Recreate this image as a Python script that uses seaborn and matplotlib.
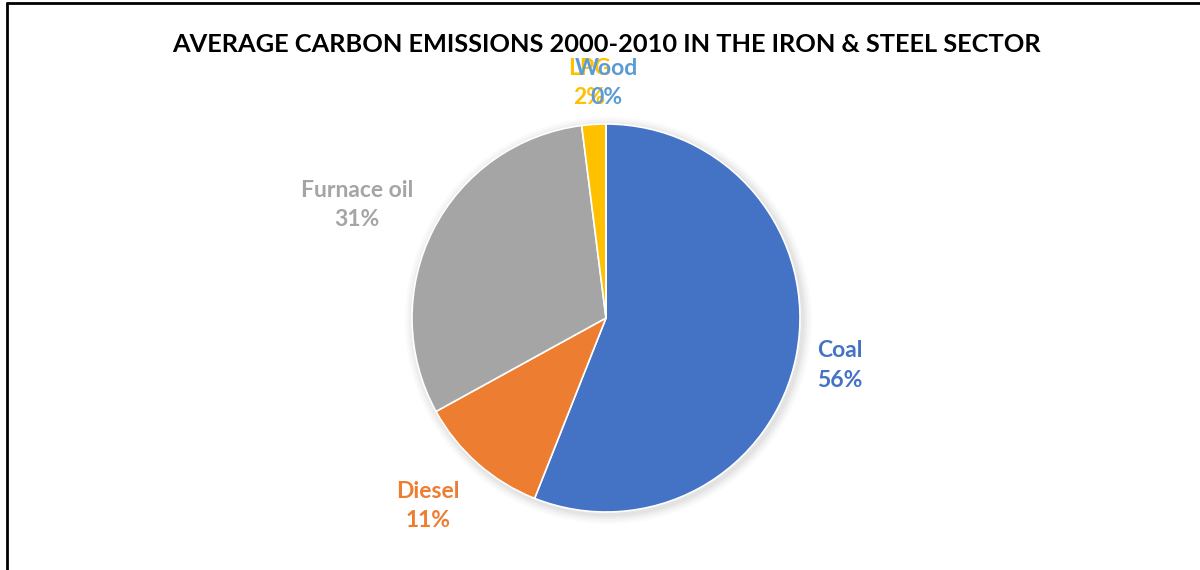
import matplotlib
matplotlib.use("Agg")
import matplotlib.pyplot as plt
from matplotlib.lines import Line2D
from matplotlib.patches import Circle
import seaborn as sns

# Share of average carbon emissions by fuel, iron & steel sector 2000-2010
fuels = ["Coal", "Diesel", "Furnace oil", "LPG", "Wood"]
shares = [56, 11, 31, 2, 0]
fuel_colors = ["#4472C4", "#ED7D31", "#A5A5A5", "#FFC000", "#5B9BD5"]
title = "AVERAGE CARBON EMISSIONS 2000-2010 IN THE IRON & STEEL SECTOR"

# label anchor points around the pie (pie radius = 1)
label_xy = [(1.206, -0.245), (-0.918, -0.969), (-1.284, 0.582),
            (-0.085, 1.211), (0.0, 1.211)]

sns.set_theme(style="white")
plt.rcParams["font.family"] = ["Lato", "DejaVu Sans"]

W, H, DPI = 1200, 570, 100
R_PX = 194.0
CX, CY = 606.0, 318.0

fig = plt.figure(figsize=(W / DPI, H / DPI), dpi=DPI)
fig.patch.set_facecolor("white")
ax = fig.add_axes([0, 0, 1, 1])

# soft shadow under the pie
for i, a in enumerate([0.035, 0.03, 0.025, 0.02]):
    ax.add_patch(Circle((0.012, -0.012), 1.0 + 0.012 * (i + 1), color="black",
                        alpha=a, lw=0, zorder=0))

palette = sns.color_palette(fuel_colors)
ax.pie(shares, colors=palette, startangle=90, counterclock=False,
       radius=1.0, center=(0, 0),
       wedgeprops=dict(edgecolor="white", linewidth=1.2), frame=True)
ax.set_xlim(-CX / R_PX, (W - CX) / R_PX)
ax.set_ylim(-(H - CY) / R_PX, CY / R_PX)
ax.set_aspect("equal")
ax.axis("off")

for name, val, col, (x, y) in zip(fuels, shares, palette, label_xy):
    ax.text(x, y, f"{name}\n{val}%", color=col, ha="center", va="center",
            fontsize=16.5, fontweight="bold", linespacing=1.5)

fig.text(606 / W, 1 - 45 / H, title, ha="center", va="center",
         fontsize=18.3, fontweight="bold", color="black")

# chart frame edges
fig.add_artist(Line2D([7 / W, 7 / W], [0, 1 - 3 / H], color="black", lw=2,
                      transform=fig.transFigure))
fig.add_artist(Line2D([7 / W, 1], [1 - 3 / H, 1 - 3 / H], color="black", lw=2,
                      transform=fig.transFigure))

fig.savefig("out.png", dpi=DPI)
